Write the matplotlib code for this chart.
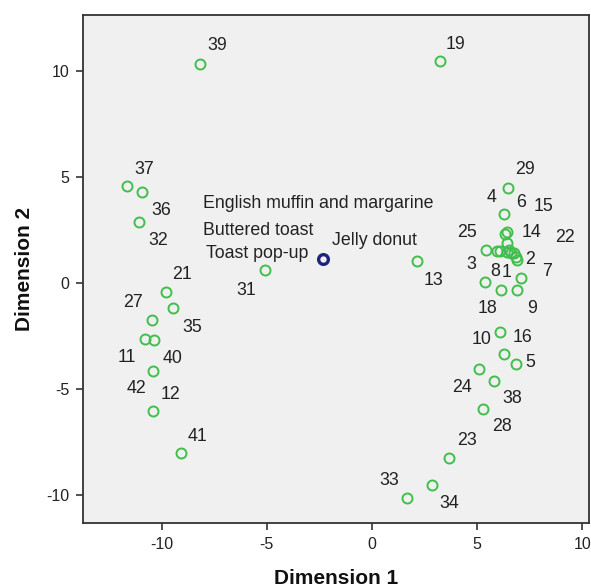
import numpy as np
import matplotlib
matplotlib.use("Agg")
import matplotlib.pyplot as plt

plt.rcParams['font.family'] = ['Liberation Sans', 'DejaVu Sans']
plt.rcParams['axes.unicode_minus'] = False

# object coordinates
ids = [29, 4, 6, 14, 25, 26, 8, 15, 1, 22, 2, 17, 20, 30, 3, 18, 9, 7,
       10, 16, 5, 24, 38, 28, 23, 34, 33, 13, 19,
       39, 37, 36, 32, 21, 35, 27, 11, 40, 42, 12, 41, 31]
dim1 = [6.47, 6.28, 6.42, 6.33, 5.42, 5.94, 6.09, 6.42, 6.42, 6.61, 6.75, 6.85, 6.90, 6.52, 5.37, 6.13, 6.90, 7.09,
        6.09, 6.28, 6.85, 5.09, 5.80, 5.28, 3.66, 2.85, 1.66, 2.14, 3.23,
        -8.18, -11.65, -10.94, -11.08, -9.80, -9.46, -10.46, -10.79, -10.37, -10.41, -10.41, -9.08, -5.09]
dim2 = [4.48, 3.25, 2.41, 2.31, 1.56, 1.51, 1.51, 1.89, 1.46, 1.42, 1.42, 1.23, 1.08, 1.56, 0.05, -0.33, -0.33, 0.24,
        -2.31, -3.35, -3.82, -4.06, -4.62, -5.94, -8.25, -9.53, -10.14, 1.04, 10.47,
        10.33, 4.58, 4.29, 2.88, -0.42, -1.18, -1.75, -2.64, -2.69, -4.15, -6.04, -8.02, 0.61]

# stimulus point
stim_x = [-2.33]
stim_y = [1.13]
stim_labels = ['English muffin and margarine', 'Buttered toast', 'Toast pop-up', 'Jelly donut']

# label placement (pixel offsets from each point), missing = label hidden
label_offsets = {
    29: (17, 19), 4: (-12, 17), 6: (14, 29), 14: (26, 2), 25: (-19, 17), 15: (37, 36),
    8: (-5, -21), 1: (0, -20), 22: (54, 15), 2: (16, -7), 3: (-14, 17), 18: (-13, -19),
    9: (15, -19), 7: (26, 6), 10: (-18, -8), 16: (18, 17), 5: (14, 1), 24: (-17, -18),
    38: (18, -18), 28: (19, -18), 23: (18, 17), 34: (17, -18), 33: (-18, 17), 13: (17, -20),
    19: (16, 17), 39: (17, 18), 37: (17, 16), 36: (19, -18), 32: (19, -19), 21: (16, 17),
    35: (19, -19), 27: (-19, 18), 11: (-18, -19), 40: (19, -18), 42: (-17, -18), 12: (17, 17),
    41: (16, 17), 31: (-19, -20),
}
stim_offsets = [(-120, 56), (-120, 29), (-117, 6), (9, 19)]

green = '#40bf4c'
navy = '#1f2380'
txt = '#222222'

fig = plt.figure(figsize=(5.91, 5.88), dpi=100)
ax = fig.add_axes([83 / 591, 1 - 523 / 588, 506 / 591, 508 / 588])
ax.set_facecolor('#f0f0f0')

ax.plot(dim1, dim2, linestyle='none', marker='o', markersize=7.2, markerfacecolor='none',
        markeredgecolor=green, markeredgewidth=1.4)
ax.plot(stim_x, stim_y, linestyle='none', marker='o', markersize=7, markerfacecolor='none',
        markeredgecolor=navy, markeredgewidth=2.4)

for i, x, y in zip(ids, dim1, dim2):
    off = label_offsets.get(i)
    if off is None:
        continue
    ax.annotate(str(i), (x, y), xytext=off, textcoords='offset pixels',
                ha='center', va='center', fontsize=12.8, color=txt)

for lab, off in zip(stim_labels, stim_offsets):
    ax.annotate(lab, (stim_x[0], stim_y[0]), xytext=off, textcoords='offset pixels',
                ha='left', va='center', fontsize=12.8, color=txt)

ax.set_xlim(-13.74, 10.32)
ax.set_ylim(-11.32, 12.64)
ax.set_xticks([-10, -5, 0, 5, 10])
ax.set_yticks([-10, -5, 0, 5, 10])
ax.tick_params(direction='out', length=5, width=1.2, colors='#333333', labelsize=11.5,
               labelcolor=txt, pad=5)
for s in ax.spines.values():
    s.set_color('#333333')
    s.set_linewidth(1.3)

ax.set_xlabel('Dimension 1', fontsize=15, fontweight='bold', labelpad=12, color='#111111')
ax.set_ylabel('Dimension 2', fontsize=15, fontweight='bold', labelpad=8.5, color='#111111')

fig.savefig('out.png', dpi=100)
